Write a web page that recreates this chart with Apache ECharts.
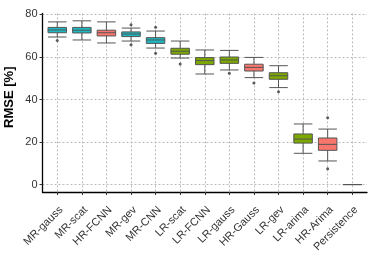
<!DOCTYPE html>
<html><head><meta charset="utf-8">
<script src="https://cdn.jsdelivr.net/npm/echarts@6/dist/echarts.min.js"></script>
<style>html,body{margin:0;padding:0;background:#fff}#c{width:374px;height:272px}</style>
</head><body><div id="c"></div>
<script>
const categories = ['MR-gauss','MR-scat','HR-FCNN','MR-gev','MR-CNN','LR-scat','LR-FCNN','LR-gauss','HR-Gauss','LR-gev','LR-arima','HR-Arima','Persistence'];
const groups = ['MR','MR','HR','MR','MR','LR','LR','LR','HR','LR','LR','HR','P'];
const whiskerLow = [69.4, 68.0, 66.6, 67.5, 64.2, 59.5, 52.0, 53.9, 50.3, 45.6, 14.7, 11.1, 0];
const q1 = [71.4, 71.3, 69.9, 69.6, 66.4, 61.3, 56.4, 57.0, 53.4, 49.5, 19.5, 16.1, 0];
const median = [72.7, 72.6, 71.4, 70.8, 68.0, 62.7, 58.3, 58.6, 55.1, 51.2, 21.4, 18.9, 0];
const q3 = [73.9, 73.9, 72.6, 71.8, 69.1, 64.1, 59.7, 60.0, 56.6, 52.6, 23.8, 21.9, 0];
const whiskerHigh = [76.5, 77.0, 76.5, 73.6, 72.2, 67.5, 63.3, 63.1, 59.8, 55.9, 28.5, 26.1, 0];
const outliers = [[67.8], [], [], [75.2, 65.8], [74.0, 61.7], [56.7], [], [52.3], [47.8], [43.7], [], [31.4, 7.4], []];
const yTicks = [0, 20, 40, 60, 80];
const groupColors = {MR: '#1DB9C3', HR: '#F8766D', LR: '#7CA800', P: '#C77CFF'};

const font = 'Liberation Sans, Arial, sans-serif';
const boxData = categories.map((c, i) => ({
  value: [i, whiskerLow[i], q1[i], median[i], q3[i], whiskerHigh[i]],
  itemStyle: {color: groupColors[groups[i]]}
}));
const outData = [];
outliers.forEach((arr, i) => arr.forEach(v => outData.push([i, v])));
const xIdx = categories.map((c, i) => i);

const chart = echarts.init(document.getElementById('c'), null, {renderer: 'canvas'});
chart.setOption({
  animation: false,
  backgroundColor: '#fff',
  grid: {left: 42.5, right: 7, top: 13.4, bottom: 80, containLabel: false, outerBoundsMode: 'none'},
  xAxis: {
    type: 'value', min: -0.6, max: 12.6,
    axisLine: {show: true, onZero: false, lineStyle: {color: '#000', width: 1.3}},
    axisTick: {show: true, length: 3, customValues: xIdx, lineStyle: {color: '#333'}},
    axisLabel: {customValues: xIdx, rotate: 45, margin: 8, color: '#333', fontSize: 11, fontFamily: font,
      verticalAlign: 'top', align: 'right', padding: [3, 3, 0, 0],
      formatter: v => categories[Math.round(v)]},
    splitLine: {show: true, lineStyle: {color: '#bbbbbb', width: 1, type: [2, 2]}}
  },
  yAxis: {
    type: 'value', min: -3.5, max: 80.5,
    name: 'RMSE [%]', nameLocation: 'middle', nameGap: 27, nameRotate: 90, nameMoveOverlap: false,
    nameTextStyle: {fontSize: 13, fontWeight: 'bold', color: '#000', fontFamily: font,
      verticalAlign: 'bottom', padding: [0, 0, 0, 11]},
    axisLine: {show: true, onZero: false, lineStyle: {color: '#000', width: 1.3}},
    axisTick: {show: true, length: 3, customValues: yTicks, lineStyle: {color: '#333'}},
    axisLabel: {customValues: yTicks, margin: 5, color: '#333', fontSize: 11, fontFamily: font},
    splitLine: {show: true, lineStyle: {color: '#bbbbbb', width: 1, type: [2, 2]}}
  },
  series: [{
    type: 'boxplot',
    data: boxData,
    boxWidth: [18.5, 18.5],
    itemStyle: {borderColor: '#555', borderWidth: 1},
    emphasis: {disabled: true}
  }, {
    type: 'scatter',
    data: outData,
    symbol: 'circle',
    symbolSize: 3,
    itemStyle: {color: '#333'},
    z: 3
  }]
});
</script></body></html>
